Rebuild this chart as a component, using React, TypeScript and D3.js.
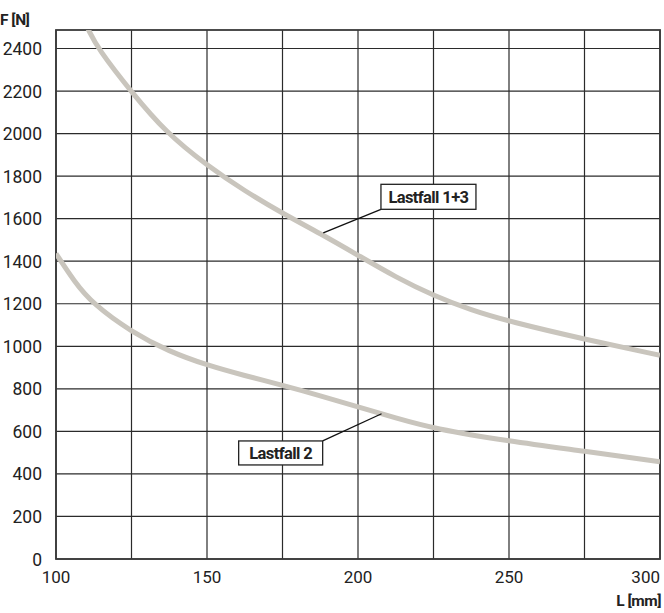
import React from "react";
import * as d3 from "d3";

const xTicks = [100, 125, 150, 175, 200, 225, 250, 275, 300];
const xLabels = [100, 150, 200, 250, 300];
const yTicks = [0, 200, 400, 600, 800, 1000, 1200, 1400, 1600, 1800, 2000, 2200, 2400];

const lastfall13L = [110.5, 113.8, 125, 136.4, 150, 162.5, 175, 187.5, 200, 212.5, 225, 237.5, 250, 275, 300];
const lastfall13F = [2495, 2400, 2195, 2005, 1850, 1730, 1625, 1530, 1428, 1325, 1238, 1170, 1117, 1033, 958];

const lastfall2L = [100, 106, 112.1, 125, 137.5, 150, 162.5, 175, 187.5, 200, 212.5, 225, 250, 275, 300];
const lastfall2F = [1436, 1305, 1200, 1067, 975, 911, 862, 817, 768, 715, 663, 613, 554, 507, 457];

const annotations = [
  { text: "Lastfall 1+3", boxL: 207.6, boxF: 1644, boxW: 95, boxH: 25, anchor: "bottom-left", tipL: 188.5, tipF: 1533 },
  { text: "Lastfall 2", boxL: 188.3, boxF: 555, boxW: 84, boxH: 24, anchor: "top-right", tipL: 207.8, tipF: 683 },
];

const W = 664, H = 613;
const M = { left: 56, top: 30, right: 4, bottom: 54 };
const iw = W - M.left - M.right;
const ih = H - M.top - M.bottom;

const x = d3.scaleLinear().domain([100, 300]).range([M.left, M.left + iw]);
const y = d3.scaleLinear().domain([0, 2487]).range([M.top + ih, M.top]);

const line = d3
  .line<[number, number]>()
  .x((d) => x(d[0]))
  .y((d) => y(d[1]))
  .curve(d3.curveBasis);

const zip = (a: number[], b: number[]) => a.map((v, i) => [v, b[i]] as [number, number]);

const FONT = "Roboto, 'Liberation Sans', sans-serif";

export default function App() {
  const gridColor = "#2b2b2b";
  const curveColor = "#c9c5bd";
  return (
    <svg width={W} height={H} style={{ position: "absolute", left: 0, top: 0, background: "#fff" }} fontFamily={FONT}>
      <defs>
        <clipPath id="plot">
          <rect x={M.left} y={M.top} width={iw} height={ih} />
        </clipPath>
      </defs>
      {yTicks.map((t) => (
        <line key={"y" + t} x1={M.left} x2={M.left + iw} y1={y(t)} y2={y(t)} stroke={gridColor} strokeWidth={1.2} />
      ))}
      {xTicks.map((t) => (
        <line key={"x" + t} x1={x(t)} x2={x(t)} y1={M.top} y2={M.top + ih} stroke={gridColor} strokeWidth={1.2} />
      ))}
      <rect x={M.left} y={M.top} width={iw} height={ih} fill="none" stroke="#3a3a3a" strokeWidth={1.8} />
      <g clipPath="url(#plot)">
        <path d={line(zip(lastfall13L, lastfall13F)) || ""} fill="none" stroke={curveColor} strokeWidth={5} />
        <path d={line(zip(lastfall2L, lastfall2F)) || ""} fill="none" stroke={curveColor} strokeWidth={5} />
      </g>
      {annotations.map((a) => {
        const bx = a.anchor === "bottom-left" ? x(a.boxL) : x(a.boxL) - a.boxW;
        const by = a.anchor === "bottom-left" ? y(a.boxF) - a.boxH : y(a.boxF);
        const cx = x(a.boxL), cy = y(a.boxF);
        return (
          <g key={a.text}>
            <line x1={cx} y1={cy} x2={x(a.tipL)} y2={y(a.tipF)} stroke="#111" strokeWidth={1.3} />
            <rect x={bx} y={by} width={a.boxW} height={a.boxH} fill="#fff" stroke="#222" strokeWidth={1.3} />
            <text x={bx + a.boxW / 2} y={by + a.boxH / 2 + 6} textAnchor="middle" fontSize={16.5} fontWeight={700} letterSpacing={-0.6} fill="#222">
              {a.text}
            </text>
          </g>
        );
      })}
      {yTicks.map((t) => (
        <text key={"yl" + t} x={42} y={y(t) + 6.5} textAnchor="end" fontSize={17.5} fill="#222">
          {t}
        </text>
      ))}
      {xLabels.map((t, i) => (
        <text
          key={"xl" + t}
          x={x(t)}
          y={583}
          textAnchor={i === xLabels.length - 1 ? "end" : "middle"}
          fontSize={17}
          fill="#222"
        >
          {t}
        </text>
      ))}
      <text x={0} y={25} fontSize={15.5} fontWeight={700} letterSpacing={-0.5} fill="#222">F [N]</text>
      <text x={661} y={606} textAnchor="end" fontSize={15.5} fontWeight={700} letterSpacing={-0.5} fill="#222">L [mm]</text>
    </svg>
  );
}
